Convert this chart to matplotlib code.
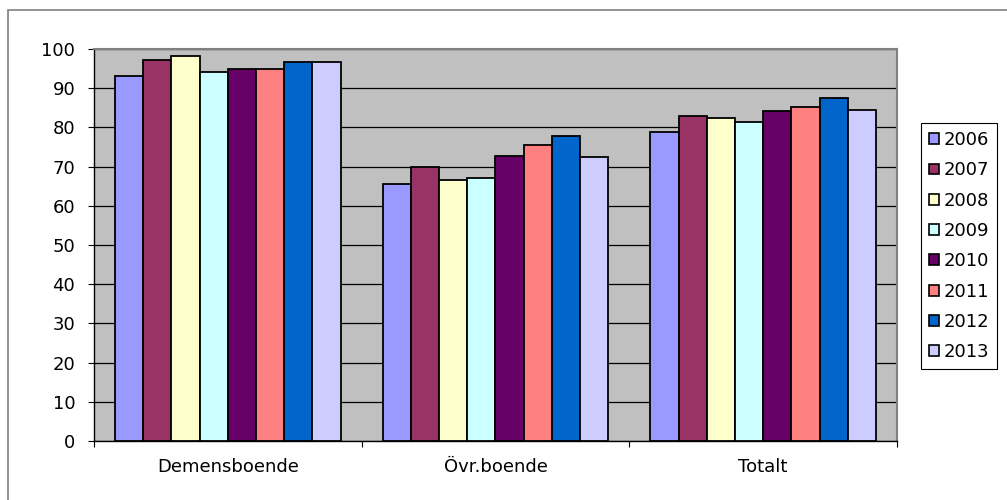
import numpy as np
import matplotlib
matplotlib.use('Agg')
import matplotlib.pyplot as plt
from matplotlib.patches import Rectangle, Patch

plt.rcParams['font.family'] = ['DejaVu Sans']

# kategorier och år
kategorier = ['Demensboende', 'Övr.boende', 'Totalt']
ar = ['2006', '2007', '2008', '2009', '2010', '2011', '2012', '2013']
farger = ['#9999FF', '#993366', '#FFFFCC', '#CCFFFF', '#660066', '#FF8080', '#0066CC', '#CCCCFF']

# andel per år (Demensboende, Övr.boende, Totalt)
v2006 = [93.2, 65.6, 78.9]
v2007 = [97.2, 69.8, 82.9]
v2008 = [98.3, 66.5, 82.4]
v2009 = [94.1, 67.2, 81.3]
v2010 = [95.0, 72.8, 84.3]
v2011 = [94.8, 75.6, 85.2]
v2012 = [96.7, 77.7, 87.4]
v2013 = [96.7, 72.5, 84.5]
serier = [v2006, v2007, v2008, v2009, v2010, v2011, v2012, v2013]

W, H = 1007, 500
fig = plt.figure(figsize=(W / 100, H / 100), dpi=100)
fig.patch.set_facecolor('white')

# ram runt diagrammet
fig.patches.append(Rectangle((8 / W, -0.1), 1.2, (H - 9.5) / H + 0.1,
                             transform=fig.transFigure, fill=False,
                             edgecolor='#808080', linewidth=1.2))

ax = fig.add_axes([94 / W, (H - 441) / H, 803 / W, (441 - 49) / H])
ax.set_facecolor('#C0C0C0')

x = np.arange(len(kategorier))
bredd = 1 / 9.5
for i, (vals, f) in enumerate(zip(serier, farger)):
    ax.bar(x + (i - 3.5) * bredd, vals, bredd, color=f, edgecolor='black',
           linewidth=1.3, zorder=3, label=ar[i])

ax.set_xlim(-0.5, 2.5)
ax.set_ylim(0, 100)
ax.set_yticks(range(0, 101, 10))
ax.yaxis.grid(True, color='black', linewidth=0.9, zorder=0)
ax.set_axisbelow(True)

ax.set_xticks(x)
ax.set_xticklabels(kategorier)
ax.set_xticks([-0.5, 0.5, 1.5, 2.5], minor=True)
ax.tick_params(axis='x', which='major', length=0, pad=12.5, labelsize=13)
ax.tick_params(axis='x', which='minor', length=4.5, width=0.8, direction='out')
ax.tick_params(axis='y', length=4.5, width=0.8, direction='out', pad=9, labelsize=13)

for s in ['top', 'right']:
    ax.spines[s].set_color('#808080')
    ax.spines[s].set_linewidth(1.5)
for s in ['left', 'bottom']:
    ax.spines[s].set_color('black')
    ax.spines[s].set_linewidth(1.0)

handles = [Patch(facecolor=f, edgecolor='black', linewidth=1.2) for f in farger]
leg = fig.legend(handles, ar, loc='upper left', bbox_to_anchor=(921 / W, (H - 123) / H),
                 fontsize=13, frameon=True, fancybox=False, framealpha=1,
                 edgecolor='black', handlelength=0.55, handleheight=0.55,
                 handletextpad=0.25, labelspacing=0.68, borderpad=0.45, borderaxespad=0)
leg.get_frame().set_linewidth(0.8)

fig.savefig('out.png', dpi=100)
